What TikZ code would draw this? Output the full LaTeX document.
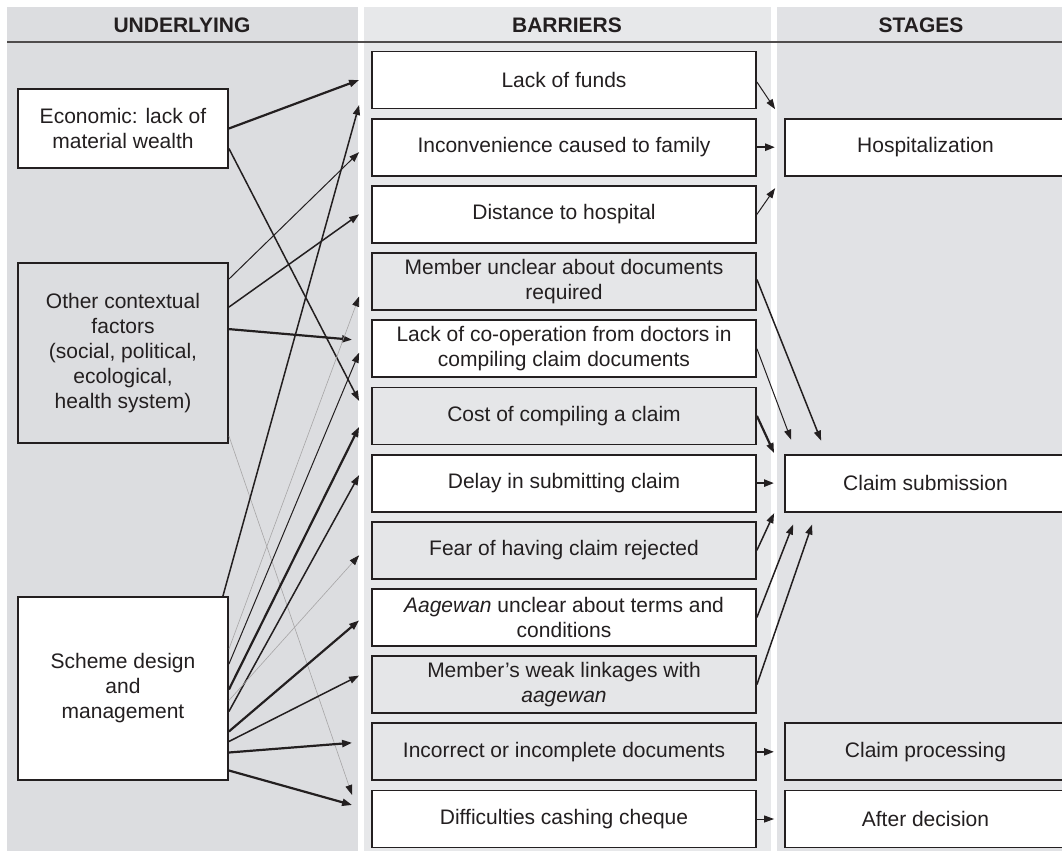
\documentclass[tikz,border=0pt]{standalone}
\usepackage{fontspec}
\setmainfont{Liberation Sans}
\usetikzlibrary{arrows.meta,calc}
\definecolor{leftbg}{RGB}{220,221,224}
\definecolor{midbg}{RGB}{231,232,234}
\definecolor{rightbg}{RGB}{225,226,229}
\definecolor{boxgray}{RGB}{229,230,232}
\definecolor{ink}{RGB}{35,31,32}

\begin{document}
\begin{tikzpicture}
[
    x=1pt, y=-1pt,
    every node/.style={font=\fontsize{21}{25}\selectfont, text=ink, align=center, inner sep=0pt},
    header/.style={font=\fontsize{21}{25}\selectfont\bfseries},
    factor/.style={draw=ink, line width=1.8pt, minimum width=210pt},
    barrier/.style={draw=ink, line width=1.8pt, fill=white, minimum width=384pt, minimum height=57pt},
    stagebox/.style={draw=ink, line width=1.8pt, fill=white, minimum width=281pt, minimum height=57pt},
    grayfill/.style={fill=boxgray},
    linkarr/.style={draw=ink, -{Triangle[length=10pt,width=7pt,color=ink]}},
    strongarr/.style={linkarr, line width=2.2pt},
    midarr/.style={linkarr, line width=1.5pt},
    thinarr/.style={linkarr, line width=1pt},
    faintarr/.style={linkarr, line width=0.6pt, draw=ink!40},
]
\useasboundingbox (0,0) rectangle (1062,853);
\fill[leftbg] (7,7) rectangle (358,851);
\fill[midbg] (364,7) rectangle (771,851);
\fill[rightbg] (777,7) rectangle (1062,851);
\draw[line width=1.5pt, ink!80] (7,42) -- (1062,42);

\node[header] (hunder) at (182,25) {UNDERLYING};
\node[header] (hbarr) at (567,25) {BARRIERS};
\node[header] (hstage) at (921,25) {STAGES};

\node[factor, fill=white, minimum height=79pt] (econ) at (123,128.5) {Economic: lack of\\material wealth};
\node[factor, minimum height=180pt] (ctx) at (123,353) {Other contextual\\factors\\(social, political,\\ecological,\\health system)};
\node[factor, fill=white, minimum height=183pt] (scheme) at (123,688.5) {Scheme design\\and\\management};

\node[barrier] (funds) at (564,80) {Lack of funds};
\node[barrier] (inconv) at (564,147.2) {Inconvenience caused to family};
\node[barrier] (distance) at (564,214.4) {Distance to hospital};
\node[barrier, grayfill] (docsreq) at (564,281.5) {Member unclear about documents\\required};
\node[barrier] (coop) at (564,348.7) {Lack of co-operation from doctors in\\compiling claim documents};
\node[barrier, grayfill] (cost) at (564,415.9) {Cost of compiling a claim};
\node[barrier] (delay) at (564,483.1) {Delay in submitting claim};
\node[barrier, grayfill] (fear) at (564,550.3) {Fear of having claim rejected};
\node[barrier] (terms) at (564,617.4) {\textit{Aagewan} unclear about terms and\\conditions};
\node[barrier, grayfill] (linkage) at (564,684.6) {Member’s weak linkages with\\\textit{aagewan}};
\node[barrier, grayfill] (incorrect) at (564,751.8) {Incorrect or incomplete documents};
\node[barrier] (cheque) at (564,819) {Difficulties cashing cheque};

\node[stagebox] (hosp) at (925.5,147.2) {Hospitalization};
\node[stagebox] (sub) at (925.5,483.1) {Claim submission};
\node[stagebox, grayfill] (proc) at (925.5,751.8) {Claim processing};
\node[stagebox] (after) at (925.5,819) {After decision};

\draw[strongarr] (econ.east) -- ($(funds.west)+(-12,0)$);
\draw[midarr] ($(econ.east)+(0,20)$) -- ($(cost.west)+(-12,-15)$);
\draw[thinarr] ($(ctx.north east)+(0,17)$) -- ($(inconv.west)+(-12,5)$);
\draw[midarr] ($(ctx.north east)+(0,45)$) -- ($(distance.west)+(-12,0)$);
\draw[strongarr] ($(ctx.north east)+(0,67)$) -- ($(coop.west)+(-19,-9)$);
\draw[faintarr] ($(ctx.south east)+(0,-8)$) -- ($(cheque.west)+(-19,-24)$);
\draw[midarr] ($(scheme.north east)+(-6,0)$) -- ($(funds.west)+(-12,25)$);
\draw[faintarr] ($(scheme.north east)+(0,53)$) -- ($(docsreq.west)+(-12,15)$);
\draw[thinarr] ($(scheme.north east)+(0,68)$) -- ($(coop.west)+(-12,4)$);
\draw[strongarr] ($(scheme.east)+(0,1)$) -- ($(cost.west)+(-12,11)$);
\draw[midarr] ($(scheme.east)+(0,23)$) -- ($(delay.west)+(-12,-8)$);
\draw[faintarr] ($(scheme.east)+(0,12)$) -- ($(fear.west)+(-12,5)$);
\draw[strongarr] ($(scheme.east)+(0,43)$) -- ($(terms.west)+(-12,3)$);
\draw[midarr] ($(scheme.east)+(0,53)$) -- ($(linkage.west)+(-12,-9)$);
\draw[strongarr] ($(scheme.east)+(0,64)$) -- ($(incorrect.west)+(-19,-9)$);
\draw[strongarr] ($(scheme.east)+(0,82)$) -- ($(cheque.west)+(-19,-14)$);

\draw[thinarr] ($(funds.east)+(0,2)$) -- ($(hosp.west)+(-9,-38)$);
\draw[strongarr] (inconv.east) -- ($(hosp.west)+(-9,0)$);
\draw[thinarr] (distance.east) -- ($(hosp.west)+(-9,41)$);
\draw[midarr] ($(docsreq.east)+(0,-2)$) -- ($(sub.north west)+(37,-13)$);
\draw[thinarr] (coop.east) -- ($(sub.north west)+(7,-14)$);
\draw[strongarr] (cost.east) -- ($(sub.west)+(-10,-30)$);
\draw[strongarr] (delay.east) -- ($(sub.west)+(-10,0)$);
\draw[midarr] (fear.east) -- ($(sub.west)+(-10,30)$);
\draw[midarr] (terms.east) -- ($(sub.south west)+(9,12)$);
\draw[midarr] (linkage.east) -- ($(sub.south west)+(28,12)$);
\draw[strongarr] (incorrect.east) -- ($(proc.west)+(-10,0)$);
\draw[thinarr] (cheque.east) -- ($(after.west)+(-10,0)$);
\end{tikzpicture}
\end{document}
